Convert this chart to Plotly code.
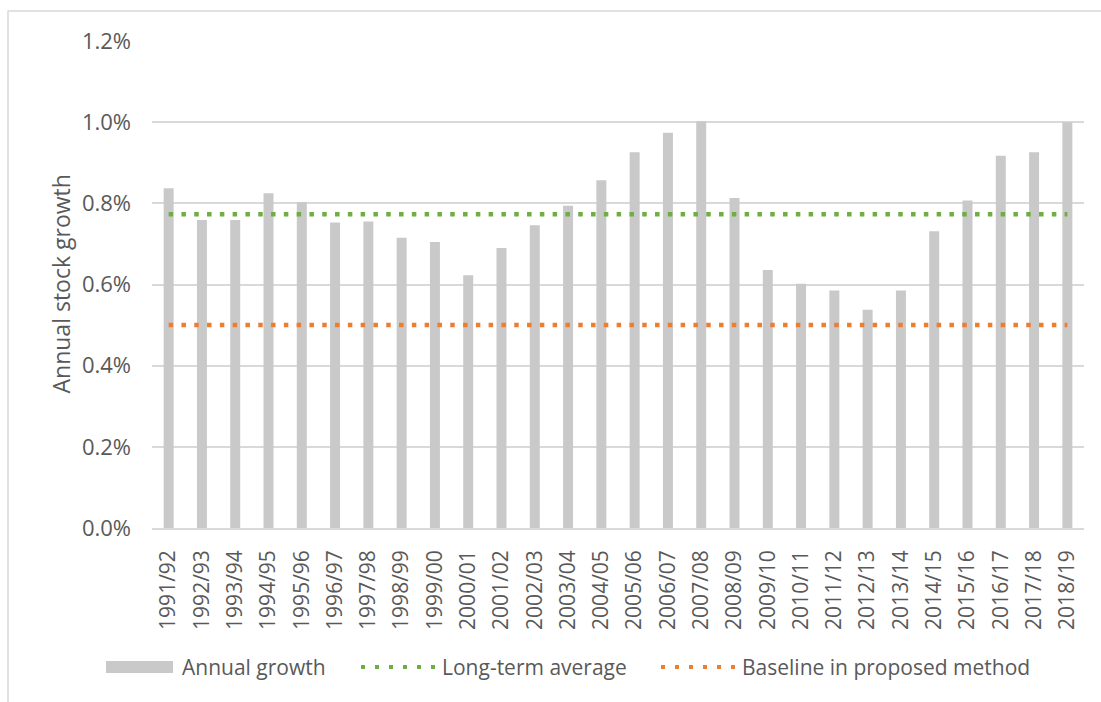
import plotly.graph_objects as go

# Financial years and annual stock growth (%)
years = [
    "1991/92", "1992/93", "1993/94", "1994/95", "1995/96", "1996/97", "1997/98",
    "1998/99", "1999/00", "2000/01", "2001/02", "2002/03", "2003/04", "2004/05",
    "2005/06", "2006/07", "2007/08", "2008/09", "2009/10", "2010/11", "2011/12",
    "2012/13", "2013/14", "2014/15", "2015/16", "2016/17", "2017/18", "2018/19",
]
annual_growth = [
    0.837, 0.759, 0.759, 0.825, 0.803, 0.753, 0.755,
    0.715, 0.705, 0.623, 0.690, 0.746, 0.794, 0.857,
    0.926, 0.974, 1.002, 0.813, 0.636, 0.602, 0.585,
    0.538, 0.585, 0.731, 0.807, 0.917, 0.926, 1.000,
]
long_term_average = 0.773
baseline = 0.500

y_ticks = [0.0, 0.2, 0.4, 0.6, 0.8, 1.0, 1.2]
y_tick_labels = ["0.0%", "0.2%", "0.4%", "0.6%", "0.8%", "1.0%", "1.2%"]

W, H = 1101, 702
L, R, T, B = 152, 17, 41, 174
PW, PH = W - L - R, H - T - B

GREY_TEXT = "#595959"
GRID = "#d9d9d9"
BAR = "#c9c9c9"
GREEN = "#70ad47"
ORANGE = "#ed7d31"
FONT = "Open Sans"


def px_x(p):
    return (p - L) / PW


def px_y(p):
    return (H - B - p) / PH


fig = go.Figure()

fig.add_trace(go.Bar(
    x=years, y=annual_growth, marker=dict(color=BAR, line=dict(width=0)),
    name="Annual growth", showlegend=False,
))
fig.add_trace(go.Scatter(
    x=[years[0], years[-1]], y=[long_term_average, long_term_average],
    mode="lines", line=dict(color=GREEN, width=4.5, dash="4.5px,8.3px"),
    name="Long-term average", showlegend=False,
))
fig.add_trace(go.Scatter(
    x=[years[0], years[-1]], y=[baseline, baseline],
    mode="lines", line=dict(color=ORANGE, width=4.5, dash="4.5px,8.3px"),
    name="Baseline in proposed method", showlegend=False,
))

shapes = [
    # chart frame
    dict(type="rect", xref="paper", yref="paper",
         x0=px_x(8), x1=px_x(1130), y0=px_y(730), y1=px_y(11),
         line=dict(color=GRID, width=1.5), fillcolor="rgba(0,0,0,0)", layer="below"),
    # legend symbols
    dict(type="rect", xref="paper", yref="paper",
         x0=px_x(106), x1=px_x(173), y0=px_y(673), y1=px_y(661),
         line=dict(width=0), fillcolor=BAR),
    dict(type="line", xref="paper", yref="paper",
         x0=px_x(361), x1=px_x(437), y0=px_y(667), y1=px_y(667),
         line=dict(color=GREEN, width=4, dash="4px,10px")),
    dict(type="line", xref="paper", yref="paper",
         x0=px_x(661), x1=px_x(737), y0=px_y(667), y1=px_y(667),
         line=dict(color=ORANGE, width=4, dash="4px,10px")),
]

legend_labels = [
    ("Annual growth", 180),
    ("Long-term average", 440),
    ("Baseline in proposed method", 740),
]
annotations = [
    dict(text=t, xref="paper", yref="paper", x=px_x(xp), y=px_y(667),
         xanchor="left", yanchor="middle", showarrow=False,
         font=dict(family=FONT, size=21, color=GREY_TEXT))
    for t, xp in legend_labels
]
# y-axis title
annotations.append(dict(
    text="Annual stock growth", xref="paper", yref="paper",
    x=px_x(60), y=0.5, xanchor="center", yanchor="middle", textangle=-90,
    showarrow=False, font=dict(family=FONT, size=23, color=GREY_TEXT),
))

fig.update_layout(
    width=W, height=H,
    margin=dict(l=L, r=R, t=T, b=B),
    paper_bgcolor="white", plot_bgcolor="white",
    bargap=0.7,
    showlegend=False,
    shapes=shapes,
    annotations=annotations,
    font=dict(family=FONT, color=GREY_TEXT, size=21),
)

fig.update_xaxes(
    type="category", tickangle=-90,
    showgrid=False, showline=True, linecolor=GRID, linewidth=1.5,
    ticks="", ticklabelstandoff=12,
    tickfont=dict(family=FONT, size=21, color=GREY_TEXT),
)
fig.update_yaxes(
    range=[0, 1.2], tickvals=y_ticks, ticktext=y_tick_labels,
    showgrid=True, gridcolor=GRID, gridwidth=1.5,
    zeroline=False, showline=False, ticks="", ticklabelstandoff=20,
    tickfont=dict(family=FONT, size=22, color=GREY_TEXT),
)

fig.write_html("out.html")
